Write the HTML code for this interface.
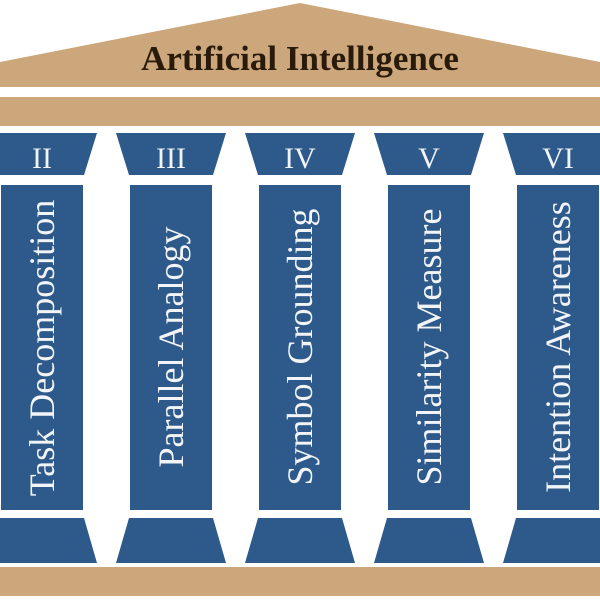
<!DOCTYPE html>
<html><head><style>html,body{margin:0;padding:0;background:#fff;}svg{display:block}</style></head>
<body>
<svg width="600" height="600" viewBox="0 0 600 600" xmlns="http://www.w3.org/2000/svg">
<rect width="600" height="600" fill="#fff"/>
<polygon points="0,62 300,3 600,62 600,87 0,87" fill="#cda77c"/>
<text x="300" y="70" text-anchor="middle" font-family="Liberation Serif, serif" font-weight="bold" font-size="35" fill="#2a1a0a">Artificial Intelligence</text>
<rect x="0" y="97" width="600" height="29" fill="#cda77c"/>
<rect x="0" y="567" width="600" height="29" fill="#cda77c"/>
<g font-family="Liberation Serif, serif" fill="#f2f4f8">
<g transform="translate(42,0)">
<polygon points="-55,133 55,133 42,175 -42,175" fill="#2d5a8a"/>
<rect x="-41" y="185" width="82" height="325" fill="#2d5a8a"/>
<polygon points="-42,518 42,518 55,563 -55,563" fill="#2d5a8a"/>
<text x="0" y="168" text-anchor="middle" font-size="30">II</text>
<text transform="translate(12,348) rotate(-90)" text-anchor="middle" font-size="36">Task Decomposition</text>
</g>
<g transform="translate(171,0)">
<polygon points="-55,133 55,133 42,175 -42,175" fill="#2d5a8a"/>
<rect x="-41" y="185" width="82" height="325" fill="#2d5a8a"/>
<polygon points="-42,518 42,518 55,563 -55,563" fill="#2d5a8a"/>
<text x="0" y="168" text-anchor="middle" font-size="30">III</text>
<text transform="translate(12,347) rotate(-90)" text-anchor="middle" font-size="36">Parallel Analogy</text>
</g>
<g transform="translate(300,0)">
<polygon points="-55,133 55,133 42,175 -42,175" fill="#2d5a8a"/>
<rect x="-41" y="185" width="82" height="325" fill="#2d5a8a"/>
<polygon points="-42,518 42,518 55,563 -55,563" fill="#2d5a8a"/>
<text x="0" y="168" text-anchor="middle" font-size="30">IV</text>
<text transform="translate(12,347) rotate(-90)" text-anchor="middle" font-size="36">Symbol Grounding</text>
</g>
<g transform="translate(429,0)">
<polygon points="-55,133 55,133 42,175 -42,175" fill="#2d5a8a"/>
<rect x="-41" y="185" width="82" height="325" fill="#2d5a8a"/>
<polygon points="-42,518 42,518 55,563 -55,563" fill="#2d5a8a"/>
<text x="0" y="168" text-anchor="middle" font-size="30">V</text>
<text transform="translate(12,347) rotate(-90)" text-anchor="middle" font-size="36">Similarity Measure</text>
</g>
<g transform="translate(558,0)">
<polygon points="-55,133 55,133 42,175 -42,175" fill="#2d5a8a"/>
<rect x="-41" y="185" width="82" height="325" fill="#2d5a8a"/>
<polygon points="-42,518 42,518 55,563 -55,563" fill="#2d5a8a"/>
<text x="0" y="168" text-anchor="middle" font-size="30">VI</text>
<text transform="translate(12,347) rotate(-90)" text-anchor="middle" font-size="36">Intention Awareness</text>
</g>
</g>
</svg>
</body></html>
